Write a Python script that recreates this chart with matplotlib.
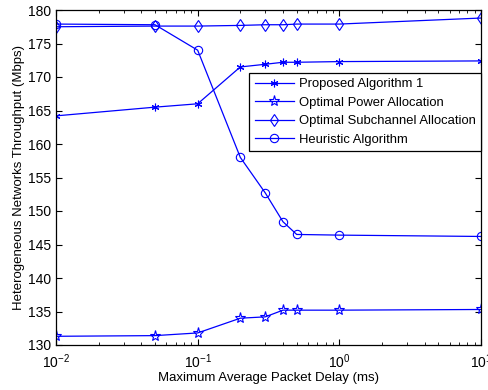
import numpy as np
import matplotlib.pyplot as plt
from matplotlib.ticker import LogLocator, NullFormatter

plt.rcParams['font.family'] = ['Liberation Sans', 'DejaVu Sans']

delay = [0.01, 0.05, 0.1, 0.2, 0.3, 0.4, 0.5, 1, 10]
proposed = [164.2, 165.5, 166.0, 171.5, 171.9, 172.2, 172.2, 172.3, 172.4]
opt_power = [131.3, 131.4, 131.8, 134.0, 134.2, 135.2, 135.2, 135.2, 135.3]
opt_subch = [177.5, 177.6, 177.6, 177.7, 177.8, 177.8, 177.9, 177.9, 178.8]
heuristic = [177.9, 177.8, 174.0, 158.0, 152.7, 148.4, 146.5, 146.4, 146.2]
labels = ['Proposed Algorithm 1', 'Optimal Power Allocation',
          'Optimal Subchannel Allocation', 'Heuristic Algorithm']

fig = plt.figure(figsize=(4.88, 3.9), dpi=100)
ax = fig.add_axes([56 / 488, 45 / 390, 425 / 488, 335 / 390])

blue = '#0000ff'
style = dict(color=blue, lw=0.9, mfc='none', mec=blue, mew=0.8)
ax.plot(delay, proposed, marker=(6, 2, 0), ms=5.5, label=labels[0], **style)
ax.plot(delay, opt_power, marker='*', ms=8, label=labels[1], **style)
ax.plot(delay, opt_subch, marker='d', ms=6.5, label=labels[2], **style)
ax.plot(delay, heuristic, marker='o', ms=6, label=labels[3], **style)

ax.set_xscale('log')
ax.set_xlim(0.01, 10)
ax.set_ylim(130, 180)
ax.set_yticks(np.arange(130, 181, 5))
ax.xaxis.set_minor_locator(LogLocator(base=10, subs=np.arange(2, 10)))
ax.xaxis.set_minor_formatter(NullFormatter())
ax.tick_params(which='both', direction='in', top=True, right=True, labelsize=10)
ax.tick_params(axis='x', which='major', pad=5)
ax.tick_params(which='major', length=4)
ax.tick_params(which='minor', length=2)
for s in ax.spines.values():
    s.set_linewidth(0.9)

ax.set_xlabel('Maximum Average Packet Delay (ms)', fontsize=9.5, labelpad=1)
ax.set_ylabel('Heterogeneous Networks Throughput (Mbps)', fontsize=9.5, labelpad=2)

leg = ax.legend(loc='upper right', bbox_to_anchor=(1.0, 0.812), fontsize=9.4,
                fancybox=False, edgecolor='black', framealpha=1,
                handlelength=3.0, handletextpad=0.4, borderpad=0.4,
                labelspacing=0.48, borderaxespad=0)
leg.get_frame().set_linewidth(0.9)

fig.savefig('out.png', dpi=100)
